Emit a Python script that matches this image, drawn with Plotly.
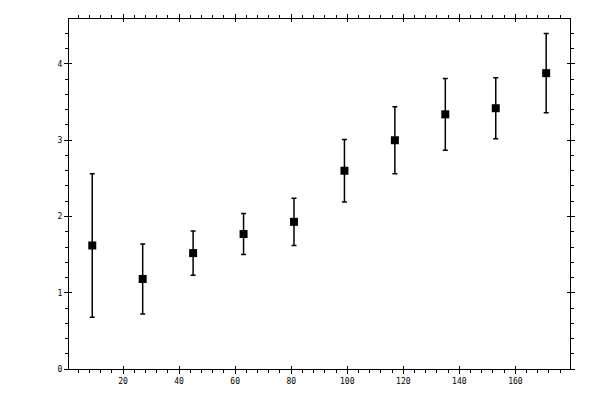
import plotly.graph_objects as go

x_vals = [9, 27, 45, 63, 81, 99, 117, 135, 153, 171]
y_vals = [1.62, 1.18, 1.52, 1.77, 1.93, 2.60, 3.00, 3.34, 3.42, 3.88]
y_err = [0.94, 0.46, 0.29, 0.27, 0.31, 0.41, 0.44, 0.47, 0.40, 0.52]

x_range = [0.7, 179.5]
y_range = [0, 4.59]

fig = go.Figure()
fig.add_trace(go.Scatter(
    x=x_vals, y=y_vals, mode="markers",
    marker=dict(symbol="square", size=8, color="black"),
    error_y=dict(type="data", array=y_err, color="black", thickness=1.5, width=2.5),
    showlegend=False,
))

tick_font = dict(family="DejaVu Sans Mono", size=8, color="black")
common = dict(showgrid=False, zeroline=False, showline=True, linecolor="black",
              linewidth=1, ticks="outside", tickwidth=1, tickcolor="black",
              mirror="allticks", tickfont=tick_font, automargin=False)

# page body has an 8px margin, so the margins are shifted to compensate
fig.update_layout(
    width=600, height=400,
    margin=dict(l=61, r=38, t=11, b=39),
    paper_bgcolor="white", plot_bgcolor="white",
    xaxis=dict(range=x_range, tick0=0, dtick=20, ticklen=4,
               minor=dict(ticks="outside", ticklen=3, dtick=4, tick0=0,
                          tickcolor="black", tickwidth=1),
               **common),
    yaxis=dict(range=y_range, tick0=0, dtick=1, ticklen=4,
               minor=dict(ticks="outside", ticklen=3, dtick=0.2, tick0=0,
                          tickcolor="black", tickwidth=1),
               **common),
    # inside halves of the major ticks
    xaxis2=dict(overlaying="x", range=x_range, tick0=0, dtick=20, ticks="inside",
                ticklen=3, tickwidth=1, tickcolor="black", showticklabels=False,
                showgrid=False, zeroline=False, showline=False, mirror="ticks"),
    yaxis2=dict(overlaying="y", range=y_range, tick0=0, dtick=1, ticks="inside",
                ticklen=3, tickwidth=1, tickcolor="black", showticklabels=False,
                showgrid=False, zeroline=False, showline=False, mirror="ticks"),
)
fig.add_trace(go.Scatter(x=[None], y=[None], xaxis="x2", yaxis="y2",
                         showlegend=False, hoverinfo="skip"))

fig.write_html("out.html")
